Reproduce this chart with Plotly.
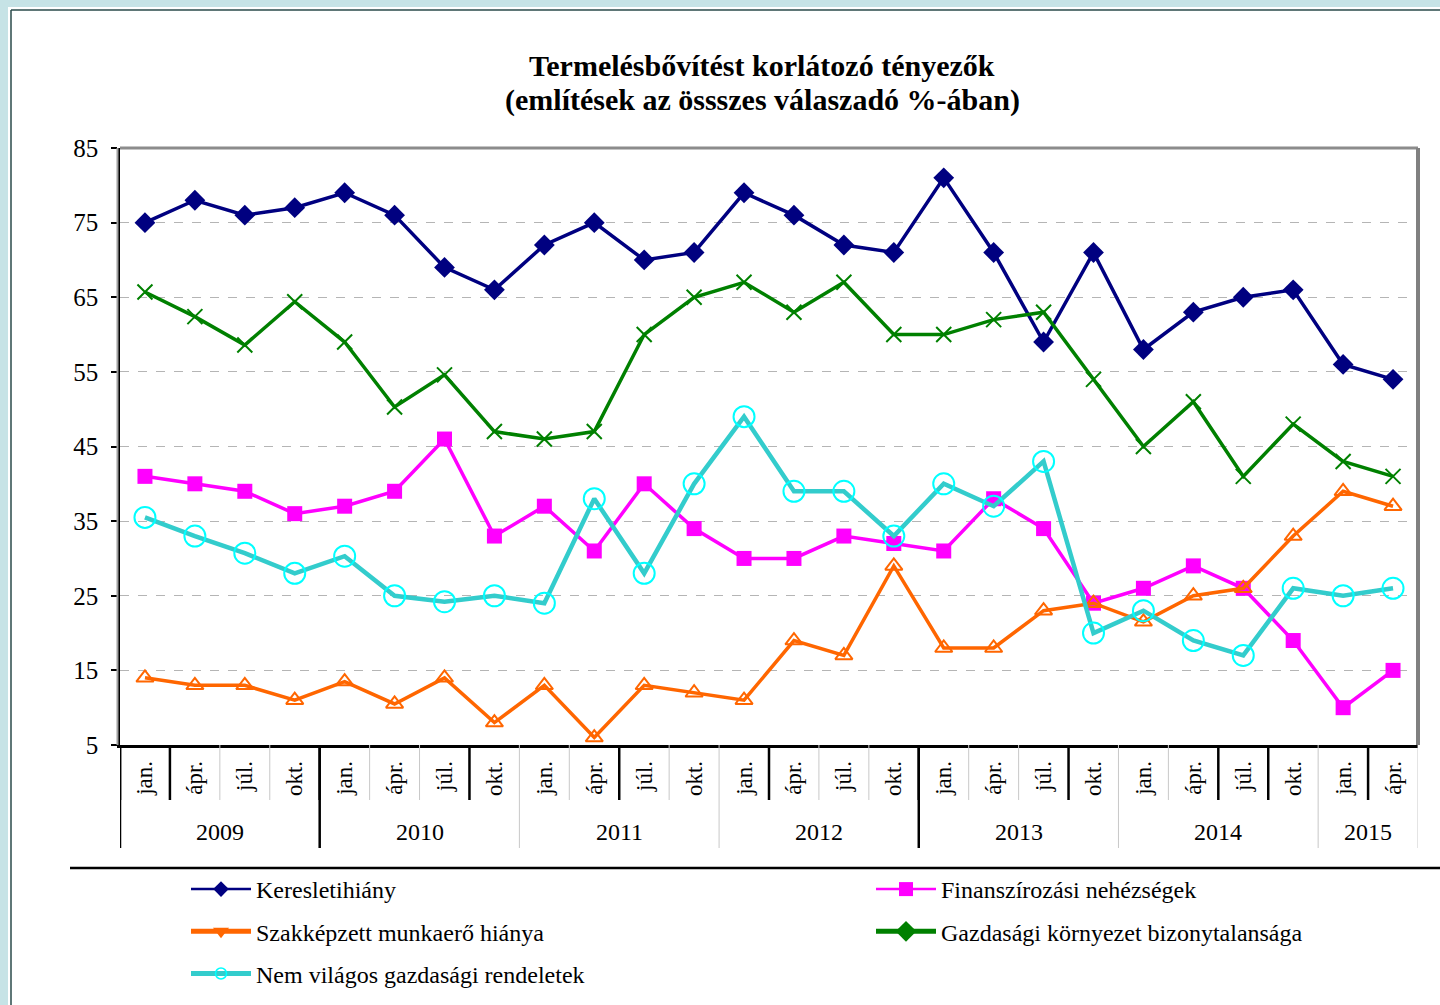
import plotly.graph_objects as go

# ---------------- data ----------------
months = ["jan.", "ápr.", "júl.", "okt."] * 6 + ["jan.", "ápr."]
years = ["2009", "2010", "2011", "2012", "2013", "2014", "2015"]
year_counts = [4, 4, 4, 4, 4, 4, 2]

kereslet = [75, 78, 76, 77, 79, 76, 69, 66, 72, 75, 70, 71, 79, 76, 72, 71, 81, 71, 59, 71, 58, 63, 65, 66, 56, 54]
finansz = [41, 40, 39, 36, 37, 39, 46, 33, 37, 31, 40, 34, 30, 30, 33, 32, 31, 38, 34, 24, 26, 29, 26, 19, 10, 15]
szakkepzett = [14, 13, 13, 11, 13.5, 10.5, 14, 8, 13, 6, 13, 12, 11, 19, 17, 29, 18, 18, 23, 24, 21.5, 25, 26, 33, 39, 37]
gazdasagi = [65.7, 62.4, 58.6, 64.4, 59, 50.3, 54.6, 47, 46, 47, 60, 65, 67, 63, 67, 60, 60, 62, 63, 54, 45, 51, 41, 48, 43, 41]
nemvilagos = [35.5, 33, 30.7, 28, 30.3, 25, 24.2, 25, 24, 38, 28, 40, 49, 39, 39, 33, 40, 37, 43, 20, 23, 19, 17, 26, 25, 26]

names = ["Keresletihiány", "Finanszírozási nehézségek", "Szakképzett munkaerő hiánya",
         "Gazdasági környezet bizonytalansága", "Nem világos gazdasági rendeletek"]
title_lines = ["Termelésbővítést korlátozó tényezők", "(említések az össszes válaszadó %-ában)"]

# ---------------- styling ----------------
FONT = "Liberation Serif"
W, H = 1440, 1005
L, R, T, B = 120, 1418, 148, 745   # plot area pixels


def px(xp):
    return (xp - L) / (R - L)


def py(yp):
    return (B - yp) / (B - T)


x = list(range(len(months)))

fig = go.Figure()

series = [
    (kereslet, names[0], dict(color="#000080", width=3.5), dict(symbol="diamond", size=16, color="#000080")),
    (finansz, names[1], dict(color="#FF00FF", width=3.5), dict(symbol="square", size=15, color="#FF00FF")),
    (szakkepzett, names[2], dict(color="#FF6600", width=3.5),
     dict(symbol="triangle-up-open", size=15, color="#FF6600", line=dict(width=2, color="#FF6600"))),
    (gazdasagi, names[3], dict(color="#008000", width=3.5),
     dict(symbol="x-thin", size=15, color="#008000", line=dict(width=2, color="#008000"))),
    (nemvilagos, names[4], dict(color="#33CCCC", width=4.5),
     dict(symbol="circle-open", size=21, color="#00FFFF", line=dict(width=2, color="#00FFFF"))),
]
for vals, nm, ln, mk in series:
    fig.add_trace(go.Scatter(x=x, y=vals, name=nm, mode="lines+markers", line=ln, marker=mk,
                             showlegend=False))

# legend-only entries (Excel legend symbols)
leg_entries = [
    (names[0], "legend", dict(color="#000080", width=2.5), dict(symbol="diamond", size=12, color="#000080")),
    (names[2], "legend", dict(color="#FF6600", width=5), dict(symbol="triangle-down", size=14, color="#FF6600")),
    (names[4], "legend", dict(color="#33CCCC", width=5),
     dict(symbol="circle-open", size=11, color="#00FFFF", line=dict(width=1.5, color="#00FFFF"))),
    (names[1], "legend2", dict(color="#FF00FF", width=2.5), dict(symbol="square", size=14, color="#FF00FF")),
    (names[3], "legend2", dict(color="#008000", width=5), dict(symbol="diamond", size=18, color="#008000")),
]
for i, (nm, lg, ln, mk) in enumerate(leg_entries):
    fig.add_trace(go.Scatter(x=[None], y=[None], name=nm, mode="lines+markers", line=ln, marker=mk,
                             legend=lg, legendgroup="g%d" % i, showlegend=True))

shapes = []
# month-row dividers
black_month = {0, 1, 4, 7, 10, 13, 16, 19, 22, 23, 25}
for b in range(len(months) + 1):
    blk = b in black_month
    shapes.append(dict(type="line", xref="x", yref="paper", x0=b - 0.5, x1=b - 0.5,
                       y0=0, y1=py(800), line=dict(color="black" if blk else "#c8c8c8", width=2.5 if blk else 1)))
# year-row dividers
bounds = [0]
for c in year_counts:
    bounds.append(bounds[-1] + c)
black_year = {0, 4, 16}
for b in bounds:
    blk = b in black_year
    shapes.append(dict(type="line", xref="x", yref="paper", x0=b - 0.5, x1=b - 0.5,
                       y0=py(800) if not blk else 0, y1=py(848),
                       line=dict(color="black" if blk else "#c8c8c8", width=2.5 if blk else 1)))
# top/right gray frame of plot area
shapes.append(dict(type="line", xref="paper", yref="paper", x0=0, x1=1, y0=1, y1=1,
                   line=dict(color="#8c8c8c", width=3)))
shapes.append(dict(type="line", xref="paper", yref="paper", x0=1, x1=1, y0=0, y1=1,
                   line=dict(color="#808080", width=4)))
# gray shadow of left axis
shapes.append(dict(type="line", xref="paper", yref="paper", x0=px(117.5), x1=px(117.5), y0=0, y1=1,
                   line=dict(color="#a0a0a0", width=2)))
# legend separator
shapes.append(dict(type="line", xref="paper", yref="paper", x0=px(70), x1=px(1440), y0=py(868), y1=py(868),
                   line=dict(color="black", width=2.5)))
# page decoration
shapes.append(dict(type="rect", xref="paper", yref="paper", x0=px(0), x1=px(8), y0=py(0), y1=py(1005),
                   fillcolor="#c6e3e6", line=dict(width=0)))
shapes.append(dict(type="rect", xref="paper", yref="paper", x0=px(0), x1=px(1440), y0=py(0), y1=py(7),
                   fillcolor="#c6e3e6", line=dict(width=0)))
shapes.append(dict(type="line", xref="paper", yref="paper", x0=px(11), x1=px(11), y0=py(10), y1=py(1005),
                   line=dict(color="#2a4a4a", width=1.5)))
shapes.append(dict(type="line", xref="paper", yref="paper", x0=px(11), x1=px(1440), y0=py(10), y1=py(10),
                   line=dict(color="#2a4a4a", width=1.5)))

annotations = []
start = 0
for yr, c in zip(years, year_counts):
    annotations.append(dict(x=start + (c - 1) / 2, y=py(832), xref="x", yref="paper", text=yr,
                            showarrow=False, font=dict(family=FONT, size=24, color="black"),
                            xanchor="center", yanchor="middle"))
    start += c

# title (two lines)
for txt, yy in zip(title_lines, [65, 100]):
    annotations.append(dict(x=px(762), y=py(yy), xref="paper", yref="paper", text="<b>%s</b>" % txt,
                            showarrow=False, font=dict(family=FONT, size=30, color="black"),
                            xanchor="center", yanchor="middle"))

leg_common = dict(xref="container", yref="container", y=1 - 867 / H, xanchor="left", yanchor="top",
                  orientation="v", font=dict(family=FONT, size=24, color="black"), itemwidth=60,
                  tracegroupgap=8, bgcolor="rgba(0,0,0,0)", itemclick=False, itemdoubleclick=False)

fig.update_layout(
    width=W, height=H,
    margin=dict(l=L, r=W - R, t=T, b=H - B, autoexpand=False),
    paper_bgcolor="white", plot_bgcolor="white",
    xaxis=dict(range=[-0.5, len(months) - 0.5], tickmode="array", tickvals=x, ticktext=months,
               tickangle=-90, showgrid=False, zeroline=False, showline=True, linecolor="black", linewidth=2.5,
               ticks="", tickfont=dict(family=FONT, size=23, color="black"), ticklabelstandoff=4,
               automargin=False),
    yaxis=dict(range=[5, 85], tickmode="linear", tick0=5, dtick=10, showgrid=True, gridcolor="#b5b5b5",
               griddash="dash", gridwidth=1, zeroline=False, showline=True, linecolor="black", linewidth=2.5,
               ticks="outside", ticklen=6, tickcolor="black", tickwidth=1.5,
               tickfont=dict(family=FONT, size=25, color="black"), ticklabelstandoff=8, automargin=False),
    shapes=shapes,
    annotations=annotations,
    legend=dict(x=186 / W, **leg_common),
    legend2=dict(x=871 / W, **leg_common),
)

fig.write_html("out.html", config={"displayModeBar": False},
               post_script="document.body.style.margin='0';")
